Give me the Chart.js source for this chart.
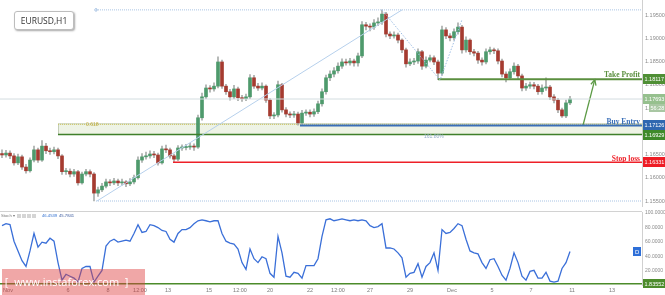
<!DOCTYPE html>
<html><head><meta charset="utf-8">
<script src="https://cdn.jsdelivr.net/npm/chart.js@4.4.1/dist/chart.umd.min.js"></script>
<style>
html,body{margin:0;padding:0;background:#fff;}
body{width:665px;height:295px;position:relative;overflow:hidden;font-family:"Open Sans","DejaVu Sans",sans-serif;}
canvas{position:absolute;left:0;}
#cMain{top:0}
#cStoch{top:209px}
#sep{position:absolute;left:0;top:211px;width:642px;height:1px;background:#d2d2d2}
#title{position:absolute;left:14px;top:11px;width:58px;height:17px;border:1px solid #bdbdbd;border-radius:3px;box-shadow:1px 1px 2px rgba(0,0,0,.35);background:#fff;font-size:8.5px;line-height:17px;color:#333;text-align:center;}
#wm{position:absolute;left:2px;top:269px;width:143px;height:26px;background:rgba(222,60,60,.45);color:#fff;font-size:11px;line-height:26px;white-space:pre;}
</style></head><body>
<canvas id="cMain" width="665" height="207"></canvas>
<canvas id="cStoch" width="665" height="86"></canvas>
<div id="sep"></div>
<div id="title">EURUSD,H1</div>
<div id="wm"> [  www.instaforex.com  ]</div>
<script>
// ---------------- data ----------------
const open0 = 1.1652;
const closes = [1.1649,1.1653,1.1647,1.1632,1.1645,1.1623,1.1615,1.1638,1.1660,1.1638,
 1.1668,1.1658,1.1656,1.1660,1.1647,1.1613,1.1614,1.1608,1.1613,1.1589,
 1.1608,1.1613,1.1608,1.1567,1.1574,1.1582,1.1591,1.1589,1.1593,1.1589,
 1.1591,1.1587,1.1591,1.1600,1.1638,1.1645,1.1647,1.1651,1.1649,1.1632,
 1.1662,1.1660,1.1647,1.1640,1.1664,1.1665,1.1666,1.1668,1.1666,1.1729,
 1.1774,1.1793,1.1791,1.1797,1.1849,1.1797,1.1785,1.1774,1.1791,1.1772,
 1.1770,1.1774,1.1815,1.1797,1.1793,1.1797,1.1767,1.1733,1.1735,1.1800,
 1.1746,1.1737,1.1735,1.1737,1.1718,1.1739,1.1741,1.1737,1.1742,1.1759,
 1.1785,1.1815,1.1823,1.1830,1.1840,1.1849,1.1847,1.1851,1.1847,1.1862,
 1.1929,1.1926,1.1924,1.1933,1.1935,1.1952,1.1909,1.1905,1.1907,1.1896,
 1.1875,1.1845,1.1849,1.1851,1.1871,1.1840,1.1853,1.1858,1.1849,1.1825,
 1.1918,1.1905,1.1901,1.1914,1.1924,1.1875,1.1896,1.1871,1.1868,1.1853,
 1.1849,1.1871,1.1875,1.1873,1.1851,1.1823,1.1815,1.1828,1.1840,1.1819,
 1.1793,1.1797,1.1800,1.1797,1.1785,1.1793,1.1795,1.1774,1.1767,1.1746,
 1.1733,1.1761,1.17693];
const highs = [1.1660,1.1659,1.1658,1.1652,1.1651,1.1649,1.1629,1.1643,1.1668,1.1664,
 1.1680,1.1674,1.1664,1.1666,1.1664,1.1650,1.1620,1.1619,1.1618,1.1616,
 1.1612,1.1618,1.1617,1.1611,1.1580,1.1588,1.1597,1.1596,1.1599,1.1597,
 1.1597,1.1594,1.1598,1.1606,1.1645,1.1652,1.1655,1.1658,1.1657,1.1653,
 1.1668,1.1670,1.1664,1.1651,1.1669,1.1671,1.1672,1.1674,1.1673,1.1735,
 1.1782,1.1800,1.1798,1.1804,1.1860,1.1853,1.1801,1.1790,1.1799,1.1795,
 1.1777,1.1780,1.1822,1.1820,1.1803,1.1804,1.1800,1.1770,1.1740,1.1808,
 1.1803,1.1751,1.1742,1.1743,1.1741,1.1745,1.1746,1.1746,1.1748,1.1765,
 1.1791,1.1821,1.1830,1.1837,1.1847,1.1856,1.1855,1.1857,1.1855,1.1868,
 1.1936,1.1934,1.1931,1.1940,1.1944,1.1961,1.1956,1.1914,1.1914,1.1911,
 1.1899,1.1879,1.1856,1.1857,1.1877,1.1874,1.1860,1.1864,1.1862,1.1853,
 1.1926,1.1923,1.1910,1.1920,1.1933,1.1928,1.1903,1.1899,1.1876,1.1872,
 1.1858,1.1877,1.1881,1.1879,1.1877,1.1855,1.1828,1.1834,1.1847,1.1844,
 1.1823,1.1803,1.1806,1.1805,1.1801,1.1800,1.1815,1.1799,1.1779,1.1771,
 1.1750,1.1767,1.1775];
const lows = [1.1643,1.1644,1.1641,1.1627,1.1628,1.1618,1.1610,1.1612,1.1634,1.1633,
 1.1635,1.1652,1.1650,1.1651,1.1641,1.1607,1.1607,1.1602,1.1603,1.1584,
 1.1586,1.1604,1.1602,1.1550,1.1560,1.1570,1.1578,1.1583,1.1585,1.1583,
 1.1584,1.1581,1.1583,1.1587,1.1597,1.1633,1.1640,1.1642,1.1643,1.1627,
 1.1629,1.1654,1.1642,1.1634,1.1637,1.1659,1.1660,1.1661,1.1659,1.1663,
 1.1724,1.1770,1.1784,1.1786,1.1793,1.1792,1.1779,1.1767,1.1770,1.1766,
 1.1764,1.1766,1.1770,1.1792,1.1788,1.1789,1.1762,1.1727,1.1727,1.1731,
 1.1741,1.1731,1.1729,1.1730,1.1713,1.1715,1.1734,1.1731,1.1732,1.1738,
 1.1754,1.1780,1.1809,1.1817,1.1825,1.1835,1.1842,1.1842,1.1840,1.1840,
 1.1858,1.1918,1.1916,1.1919,1.1927,1.1930,1.1903,1.1899,1.1900,1.1890,
 1.1869,1.1838,1.1841,1.1843,1.1846,1.1833,1.1836,1.1849,1.1843,1.1811,
 1.1820,1.1899,1.1894,1.1896,1.1909,1.1868,1.1870,1.1865,1.1862,1.1846,
 1.1842,1.1845,1.1866,1.1867,1.1845,1.1817,1.1806,1.1811,1.1823,1.1813,
 1.1787,1.1788,1.1792,1.1791,1.1779,1.1780,1.1788,1.1768,1.1761,1.1740,
 1.1730,1.1729,1.1757];
const stochMain = [82.4,85.1,83.8,60.8,47.3,33.8,25.7,47.3,71.6,52.7,
 59.5,58.1,64.9,60.8,31.1,6.8,14.9,12.2,9.5,4.1,
 23.0,25.7,25.7,4.1,12.2,20.3,54.1,60.8,63.5,59.5,
 60.8,62.2,60.8,71.6,83.8,73.0,74.3,83.8,82.4,79.7,
 75.7,74.3,63.5,59.5,71.6,77.0,77.0,79.7,85.1,89.2,
 90.5,89.2,87.8,89.2,89.2,71.6,60.8,58.1,56.7,50.0,
 31.1,21.6,50.0,36.5,31.1,39.2,36.5,16.2,10.8,67.6,
 44.6,12.2,10.8,17.6,16.2,9.5,27.0,27.0,27.0,36.5,
 67.6,90.5,91.9,89.2,90.5,91.9,90.5,89.2,90.5,89.2,
 90.5,89.2,82.4,79.7,81.1,85.1,51.4,51.4,50.0,44.6,
 37.8,10.8,16.2,17.6,29.7,10.8,25.7,31.1,44.6,20.3,
 77.0,71.6,73.0,78.4,85.1,82.4,63.5,47.3,44.6,43.2,
 31.1,23.0,35.1,36.5,25.7,13.5,6.8,23.0,44.6,31.1,
 12.2,6.8,18.9,20.3,9.5,9.5,17.6,5.4,4.1,5.4,
 23.0,31.1,46.5];
const timeTickPos = [1.5,16.5,26.5,34.5,41.5,51.75,59.5,67,77,84,92,102,112.5,122.5,132.25,142.5,152.5];
const timeTickLabels = ["Nov","6","8","12:00","13","15","12:00","20","22","12:00","27","29","Dec","5","7","11","13"];
const priceTicks = [1.155,1.16,1.165,1.17,1.175,1.18,1.185,1.19,1.195];
const stochTicks = [20,40,60,80,100];
const stochReadout = ["46.4539","45.7841"];
// trade levels
const takeProfit = 1.18117, buyEntry = 1.17126, zoneLow = 1.16929, zoneTop = 1.1716, stopLoss = 1.16331;
const lastPrice = 1.17693, countdown = "56:28", fibHigh = 1.1961, fibLow = 1.1550, stochLevel = 1.83552;
// drawing anchors (bar index, price)
const fibStart = 23.5, zoneStart = 14, buyStart = 74.5, stopStart = 42.75, tpStart = 109;
const trendPts = [[23.75,1.1550],[100,1.1961]];
const zigzagPts = [[95,1.1961],[109.5,1.1810],[115,1.1940]];
const arrowPts = [[145.25,1.17126],[148.2,1.1811]];

// ---------------- helpers ----------------
const X_MIN = -0.5, X_MAX = 160, AXIS_W = 23;
const UP = '#4e9a6c', DOWN = '#a53b30', WICK = '#a8acaa';
const SMALL = '"Liberation Sans", Arial, sans-serif';
const opens = closes.map((c,i)=> i===0 ? open0 : closes[i-1]);
const bodyCol = closes.map((c,i)=> c>=opens[i] ? UP : DOWN);
function hline(y, x0, color, w, dash){
  return {type:'line', data:[{x:x0,y:y},{x:X_MAX,y:y}], borderColor:color, borderWidth:w, borderDash:dash||[], pointRadius:0, fill:false, order:0};
}
function pline(pts, color, w, dash){
  return {type:'line', data:pts.map(p=>({x:p[0],y:p[1]})), borderColor:color, borderWidth:w, borderDash:dash||[], pointRadius:0, fill:false, order:0};
}
function tag(ctx, x, yc, w, h, bg, txt, fg){
  ctx.fillStyle = bg; ctx.fillRect(x, Math.round(yc - h/2), w, h);
  ctx.fillStyle = fg||'#fff'; ctx.font = '5.5px ' + SMALL; ctx.textAlign='left'; ctx.textBaseline='middle';
  ctx.fillText(txt, x+1.5, yc+0.5);
}

const mainPlugin = {
  id:'mainAnnot',
  beforeDatasetsDraw(chart){
    const ctx = chart.ctx, xs = chart.scales.x, ys = chart.scales.y;
    const x0 = xs.getPixelForValue(zoneStart), x1 = chart.chartArea.right;
    const yT = ys.getPixelForValue(zoneTop), yB = ys.getPixelForValue(zoneLow);
    ctx.save();
    ctx.fillStyle = '#eef3e5'; ctx.fillRect(x0, yT, x1-x0, yB-yT);
    ctx.strokeStyle = '#c3cdb8'; ctx.lineWidth = 1; ctx.strokeRect(x0+0.5, yT, x1-x0, yB-yT);
    ctx.setLineDash([1,1]); ctx.strokeStyle = '#cfc45a';
    ctx.beginPath(); ctx.moveTo(x0, yT+0.5); ctx.lineTo(x1, yT+0.5); ctx.stroke();
    ctx.restore();
  },
  afterDatasetsDraw(chart){
    const ctx = chart.ctx, xs = chart.scales.x, ys = chart.scales.y;
    ctx.save();
    const ax = xs.getPixelForValue(arrowPts[1][0]), ay = ys.getPixelForValue(arrowPts[1][1]);
    const bx = xs.getPixelForValue(arrowPts[0][0]), by = ys.getPixelForValue(arrowPts[0][1]);
    const ang = Math.atan2(ay-by, ax-bx);
    ctx.strokeStyle = '#5c9a45'; ctx.lineWidth = 1.3;
    ctx.beginPath();
    ctx.moveTo(ax - 6*Math.cos(ang-0.45), ay - 6*Math.sin(ang-0.45));
    ctx.lineTo(ax, ay);
    ctx.lineTo(ax - 6*Math.cos(ang+0.45), ay - 6*Math.sin(ang+0.45));
    ctx.stroke();
    ctx.font = 'bold 7.5px "Liberation Serif"'; ctx.textAlign='right'; ctx.textBaseline='alphabetic';
    const rx = chart.chartArea.right - 2;
    ctx.fillStyle = '#5b8f3f'; ctx.fillText('Take Profit', rx, ys.getPixelForValue(takeProfit)-2);
    ctx.fillStyle = '#3a6fb8'; ctx.fillText('Buy Entry', rx, ys.getPixelForValue(buyEntry)-1.5);
    ctx.fillStyle = '#ee2028'; ctx.fillText('Stop loss', rx, ys.getPixelForValue(stopLoss)-1.5);
    ctx.font = '5px ' + SMALL; ctx.textAlign='left'; ctx.textBaseline='middle';
    ctx.fillStyle = '#c0ad45'; ctx.fillText('0.618', xs.getPixelForValue(21), ys.getPixelForValue(zoneTop)+1);
    ctx.fillStyle = '#93abc8'; ctx.fillText('161.80%', xs.getPixelForValue(105.5), ys.getPixelForValue(zoneLow)+2.5);
    ctx.strokeStyle = '#a9c4e4'; ctx.lineWidth = 1;
    ctx.beginPath(); ctx.arc(xs.getPixelForValue(fibStart), ys.getPixelForValue(fibHigh), 1.3, 0, Math.PI*2); ctx.stroke();
    ctx.restore();
  },
  afterDraw(chart){
    const ctx = chart.ctx, ys = chart.scales.y;
    const x = chart.chartArea.right + 1;
    ctx.save();
    tag(ctx, x, ys.getPixelForValue(takeProfit), 22, 10, '#4f8f35', takeProfit.toFixed(5));
    tag(ctx, x, ys.getPixelForValue(lastPrice), 22, 10, '#96c08e', lastPrice.toFixed(5));
    tag(ctx, x+6, ys.getPixelForValue(lastPrice)+9, 16, 8, '#a9c7a3', countdown);
    tag(ctx, x, ys.getPixelForValue(buyEntry), 22, 10, '#2f67b0', buyEntry.toFixed(5));
    tag(ctx, x, ys.getPixelForValue(zoneLow), 22, 10, '#3f8a2a', zoneLow.toFixed(5));
    tag(ctx, x, ys.getPixelForValue(stopLoss), 22, 10, '#ee1c25', stopLoss.toFixed(5));
    ctx.restore();
  }
};

new Chart(document.getElementById('cMain'), {
  type:'bar',
  data:{ datasets:[
    {type:'bar', data:closes.map((c,i)=>({x:i, y:[lows[i], highs[i]]})), backgroundColor:WICK, barThickness:1, maxBarThickness:1, grouped:false, order:3, borderWidth:0},
    {type:'bar', data:closes.map((c,i)=>({x:i, y:[opens[i], c]})), backgroundColor:bodyCol, barThickness:3, maxBarThickness:3, minBarLength:1, grouped:false, order:2, borderWidth:0},
    hline(lastPrice, X_MIN, '#d3dde0', 1),
    hline(fibHigh, fibStart, '#a9c4e4', 1, [1,1]),
    hline(fibLow, fibStart, '#a9c4e4', 1, [1,1]),
    pline(trendPts, '#b6d0ec', 1),
    pline(zigzagPts, '#9dbde3', 1, [1.5,1.5]),
    hline(zoneLow, zoneStart, '#3f7f2a', 1.5),
    hline(buyEntry, buyStart, '#3a6fb8', 2),
    hline(stopLoss, stopStart, '#ee2028', 1.5),
    hline(takeProfit, tpStart, '#5b8f3f', 2),
    pline(arrowPts, '#5c9a45', 1.3)
  ]},
  options:{
    responsive:false, animation:false, devicePixelRatio:1,
    layout:{padding:0},
    plugins:{legend:{display:false}, tooltip:{enabled:false}, title:{display:false}},
    scales:{
      x:{type:'linear', min:X_MIN, max:X_MAX, offset:false, display:false},
      y:{type:'linear', position:'right', min:1.15371, max:1.198226,
         grid:{display:false, drawTicks:false}, border:{display:true, color:'#d0d0d0'},
         afterBuildTicks(s){ s.ticks = priceTicks.map(v=>({value:v})); },
         afterFit(s){ s.width = AXIS_W; s.paddingTop = 0; s.paddingBottom = 0; },
         ticks:{padding:3, color:'#8a8a8a', font:{size:5.5, family:'Liberation Sans'}, callback:(v)=>Number(v).toFixed(5)}}
    }
  },
  plugins:[mainPlugin]
});

const stochPlugin = {
  id:'stochAnnot',
  afterDraw(chart){
    const ctx = chart.ctx, ys = chart.scales.y, ca = chart.chartArea;
    ctx.save();
    ctx.font = '4.2px ' + SMALL; ctx.textBaseline='middle'; ctx.textAlign='left';
    ctx.fillStyle = '#777'; ctx.fillText('Stoch \u25BE', 1, 7);
    ctx.fillStyle = '#d5d5d5';
    for (let k=0;k<4;k++){ ctx.fillRect(17+k*5, 5, 4, 4); }
    ctx.fillStyle = '#2f6fd0'; ctx.fillText(stochReadout[0], 42, 7);
    ctx.fillStyle = '#3b5a9e'; ctx.fillText(stochReadout[1], 59, 7);
    const yD = ys.getPixelForValue(stochMain[stochMain.length-1]);
    ctx.fillStyle = '#2e6fd8'; ctx.fillRect(ca.right-9, yD-4.5, 8, 9);
    ctx.fillStyle = '#fff'; ctx.font = '6px ' + SMALL; ctx.fillText('D', ca.right-7, yD+0.5);
    tag(ctx, ca.right+1, ys.getPixelForValue(stochLevel), 22, 9, '#4c8b2b', stochLevel.toFixed(5));
    ctx.restore();
  }
};

new Chart(document.getElementById('cStoch'), {
  type:'line',
  data:{ datasets:[
    {data:[{x:X_MIN,y:stochLevel},{x:X_MAX,y:stochLevel}], borderColor:'#4c8b2b', borderWidth:1.5, pointRadius:0, fill:false},
    {data:stochMain.map((v,i)=>({x:i,y:v})), borderColor:'#3a6fd8', borderWidth:1.3, pointRadius:0, fill:false, tension:0}
  ]},
  options:{
    responsive:false, animation:false, devicePixelRatio:1,
    layout:{padding:{top:3, left:0, right:0, bottom:0}},
    plugins:{legend:{display:false}, tooltip:{enabled:false}},
    scales:{
      x:{type:'linear', min:X_MIN, max:X_MAX, offset:false,
         grid:{display:false, drawTicks:false}, border:{display:false},
         afterBuildTicks(s){ s.ticks = timeTickPos.map(v=>({value:v})); },
         afterFit(s){ s.height = 10; s.paddingLeft = 0; s.paddingRight = 0; },
         ticks:{autoSkip:false, maxRotation:0, padding:2, color:'#7a7a7a', font:{size:5.5, family:'Liberation Sans'},
                callback:(v,i)=>timeTickLabels[i]}},
      y:{type:'linear', position:'right', min:0, max:101.35,
         grid:{display:false, drawTicks:false}, border:{display:true, color:'#d0d0d0'},
         afterBuildTicks(s){ s.ticks = stochTicks.map(v=>({value:v})); },
         afterFit(s){ s.width = AXIS_W; s.paddingTop = 0; s.paddingBottom = 0; },
         ticks:{padding:3, color:'#8a8a8a', font:{size:5, family:'Liberation Sans'}, callback:(v)=>Number(v).toFixed(4)}}
    }
  },
  plugins:[stochPlugin]
});
</script>
</body></html>
